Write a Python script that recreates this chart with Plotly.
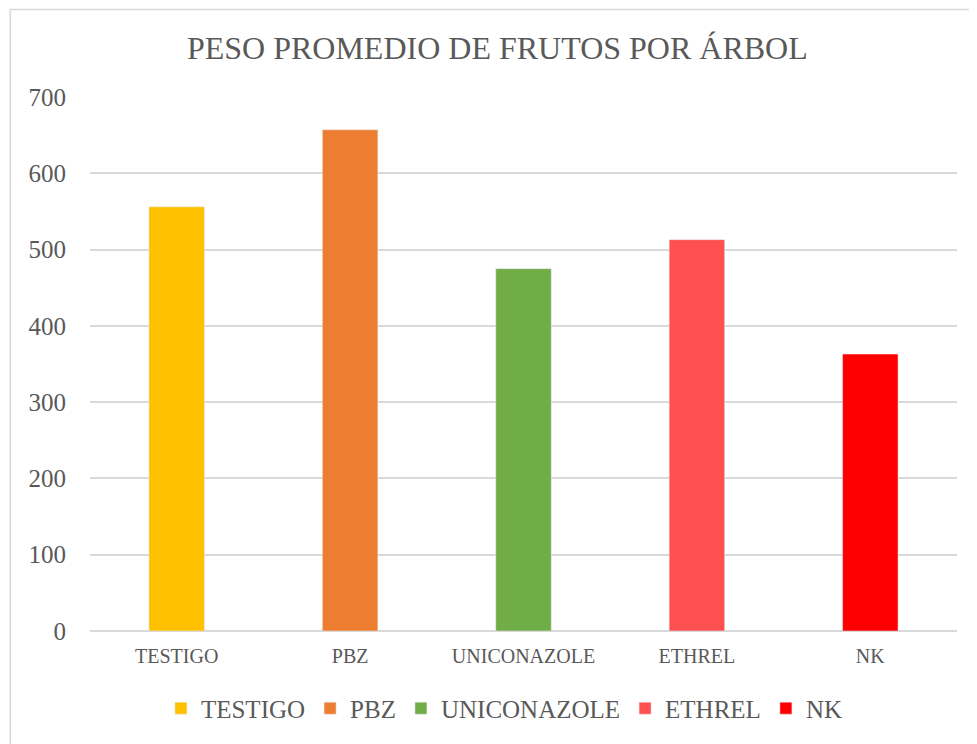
import plotly.graph_objects as go

categories = ["TESTIGO", "PBZ", "UNICONAZOLE", "ETHREL", "NK"]
values = [556, 657, 475, 513, 363]
colors = ["#FFC000", "#ED7D31", "#70AD47", "#FF5050", "#FF0000"]

FONT = "Liberation Serif, Times New Roman, serif"
GREY = "#595959"

fig = go.Figure()
for cat, val, col in zip(categories, values, colors):
    fig.add_trace(go.Bar(
        x=[cat],
        y=[val],
        name=cat,
        marker_color=col,
        width=0.32,
    ))

# page body adds an 8px margin, so the figure is a bit smaller than the window
fig.update_layout(
    width=969,
    height=736,
    barmode="overlay",
    plot_bgcolor="white",
    paper_bgcolor="white",
    font=dict(family=FONT, color=GREY),
    title=dict(
        text="PESO PROMEDIO DE FRUTOS POR ÁRBOL",
        x=0.505,
        xanchor="center",
        y=0.946,
        yanchor="middle",
        font=dict(size=32, color=GREY, family=FONT),
    ),
    margin=dict(l=82, r=20, t=89, b=111),
    legend=dict(
        orientation="h",
        x=0.478,
        xanchor="center",
        y=-0.145,
        yanchor="middle",
        font=dict(size=25, color=GREY),
        itemwidth=30,
    ),
    xaxis=dict(
        tickfont=dict(size=20, color=GREY),
        ticklabelstandoff=11,
        showline=False,
        showgrid=False,
    ),
    yaxis=dict(
        range=[0, 700],
        dtick=100,
        tickfont=dict(size=25, color=GREY),
        showgrid=True,
        gridcolor="#D9D9D9",
        gridwidth=1.5,
        zeroline=True,
        zerolinecolor="#D9D9D9",
        zerolinewidth=1.5,
        ticklabelstandoff=23,
        showline=False,
    ),
    shapes=[dict(
        type="rect",
        xref="paper", yref="paper",
        x0=-0.092, x1=1.2,
        y0=-0.4, y1=1.164,
        line=dict(color="#D9D9D9", width=1.5),
        layer="below",
    )],
)

fig.write_html("out.html")
